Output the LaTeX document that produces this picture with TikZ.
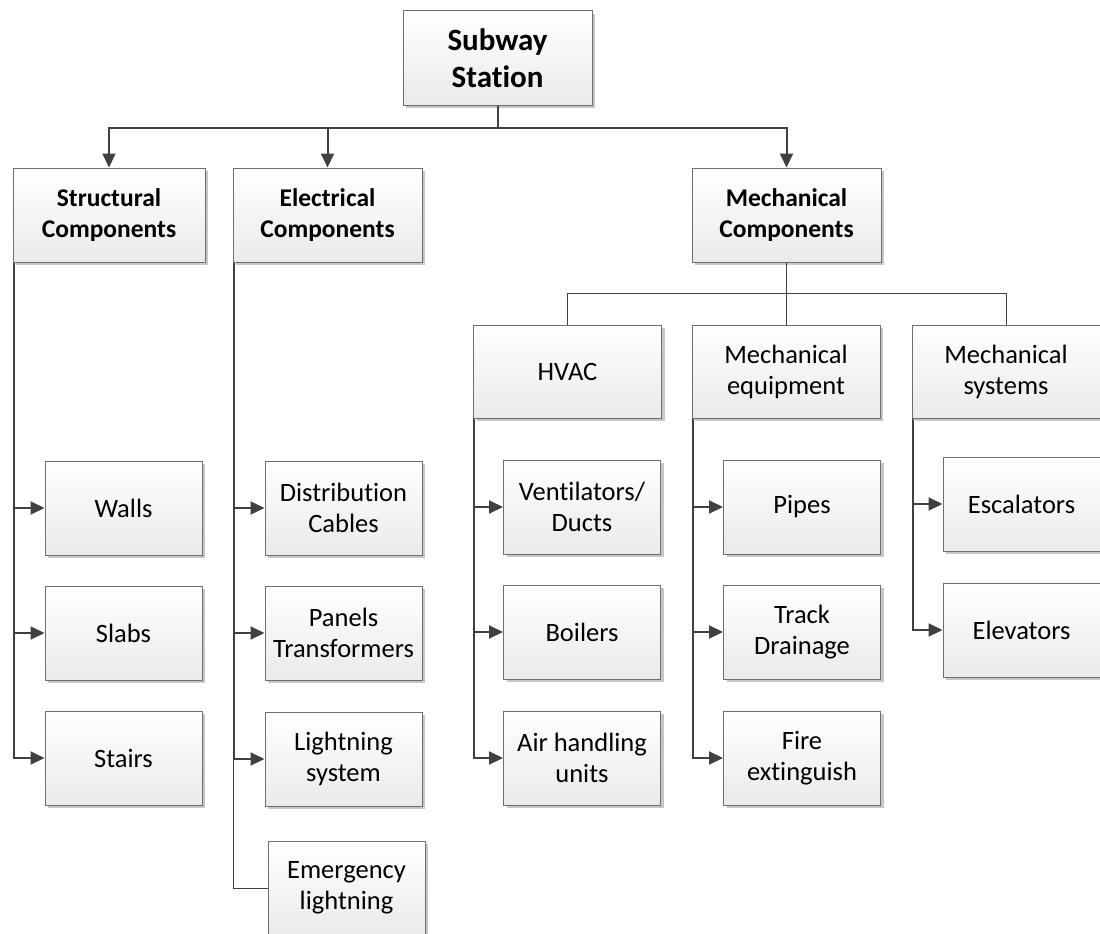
\documentclass[tikz,border=0pt]{standalone}
\usepackage{fontspec}
\setmainfont{Carlito}[Ligatures=NoCommon]
\usetikzlibrary{arrows.meta,shadows}
\definecolor{linegray}{HTML}{404040}
\definecolor{edgegray}{HTML}{6E6E6E}
\definecolor{shadegray}{HTML}{EAEAEA}
\definecolor{shadowgray}{HTML}{C6C6C6}
\tikzset{
  box/.style={draw=edgegray, line width=1pt, top color=white, bottom color=shadegray,
    drop shadow={shadow xshift=3pt, shadow yshift=-3pt, fill=shadowgray, opacity=1},
    align=center, inner sep=0pt, text=black,
    font=\fontsize{26.5}{31}\selectfont},
  rootbox/.style={box, minimum width=189pt, minimum height=94pt,
    font=\fontsize{31}{37}\selectfont\bfseries},
  headbox/.style={box, minimum width=189pt, minimum height=94pt,
    font=\fontsize{25.5}{31}\selectfont\bfseries},
  subbox/.style={box, minimum width=188pt, minimum height=93pt},
  leafbox/.style={box, minimum width=157pt, minimum height=94pt},
  conn/.style={draw=linegray, line width=2pt, -{Triangle[length=14pt,width=13pt]}},
  thinconn/.style={draw=linegray, line width=1pt},
}
\begin{document}
\begin{tikzpicture}[x=1pt,y=-1pt]
\useasboundingbox (0,0) rectangle (1100,934);

% root and first level
\node[rootbox] (root) at (497.5,58) {Subway\\Station};
\node[headbox, minimum width=192pt] (struct) at (109,215) {Structural\\Components};
\node[headbox] (elec) at (327.5,215) {Electrical\\Components};
\node[headbox] (mech) at (786.5,215) {Mechanical\\Components};

% mechanical sub-groups
\node[subbox] (hvac) at (567.5,371.5) {HVAC};
\node[subbox] (mequip) at (786,371.5) {Mechanical\\equipment};
\node[subbox] (msys) at (1006,371.5) {Mechanical\\systems};

% structural leaves
\node[leafbox] (walls) at (123.5,508) {Walls};
\node[leafbox] (slabs) at (123.5,633) {Slabs};
\node[leafbox] (stairs) at (123.5,758) {Stairs};

% electrical leaves
\node[leafbox] (cables) at (343.5,508) {Distribution\\Cables};
\node[leafbox] (panels) at (343.5,633) {Panels\\Transformers};
\node[leafbox] (lsys) at (343.5,759) {Lightning\\system};
\node[leafbox] (emerg) at (346.5,888) {Emergency\\lightning};

% HVAC leaves
\node[leafbox] (vent) at (582,507) {Ventilators/\\Ducts};
\node[leafbox] (boil) at (582,632) {Boilers};
\node[leafbox] (ahu) at (582,758) {Air handling\\units};

% mechanical equipment leaves
\node[leafbox] (pipes) at (802,507) {Pipes};
\node[leafbox] (drain) at (802,632) {Track\\Drainage};
\node[leafbox] (fire) at (802,758) {Fire\\extinguish};

% mechanical systems leaves
\node[leafbox] (esc) at (1021.5,504) {Escalators};
\node[leafbox] (elev) at (1021.5,630) {Elevators};

% root to first level
\coordinate (bus) at (0,128);
\draw[conn] (root.south) -- (root.south |- bus) -| (struct.north);
\draw[conn] (root.south) -- (root.south |- bus) -| (elec.north);
\draw[conn] (root.south) -- (root.south |- bus) -| (mech.north);

% mechanical to sub-groups
\coordinate (mbus) at (0,293);
\draw[thinconn] (mech.south) -- (mech.south |- mbus) -| (hvac.north);
\draw[thinconn] (mech.south) -- (mech.south |- mbus) -| (mequip.north);
\draw[thinconn] (mech.south) -- (mech.south |- mbus) -| (msys.north);

% trunks with arrows to leaves
\foreach \grp/\kid in {struct/walls, struct/slabs, struct/stairs,
                       elec/cables, elec/panels, elec/lsys,
                       hvac/vent, hvac/boil, hvac/ahu,
                       mequip/pipes, mequip/drain, mequip/fire,
                       msys/esc, msys/elev}
  \draw[conn] ([xshift=1pt]\grp.south west) |- (\kid.west);

% plain link to emergency lightning
\draw[thinconn] ([xshift=1pt]elec.south west) |- (emerg.west);
\end{tikzpicture}
\end{document}
